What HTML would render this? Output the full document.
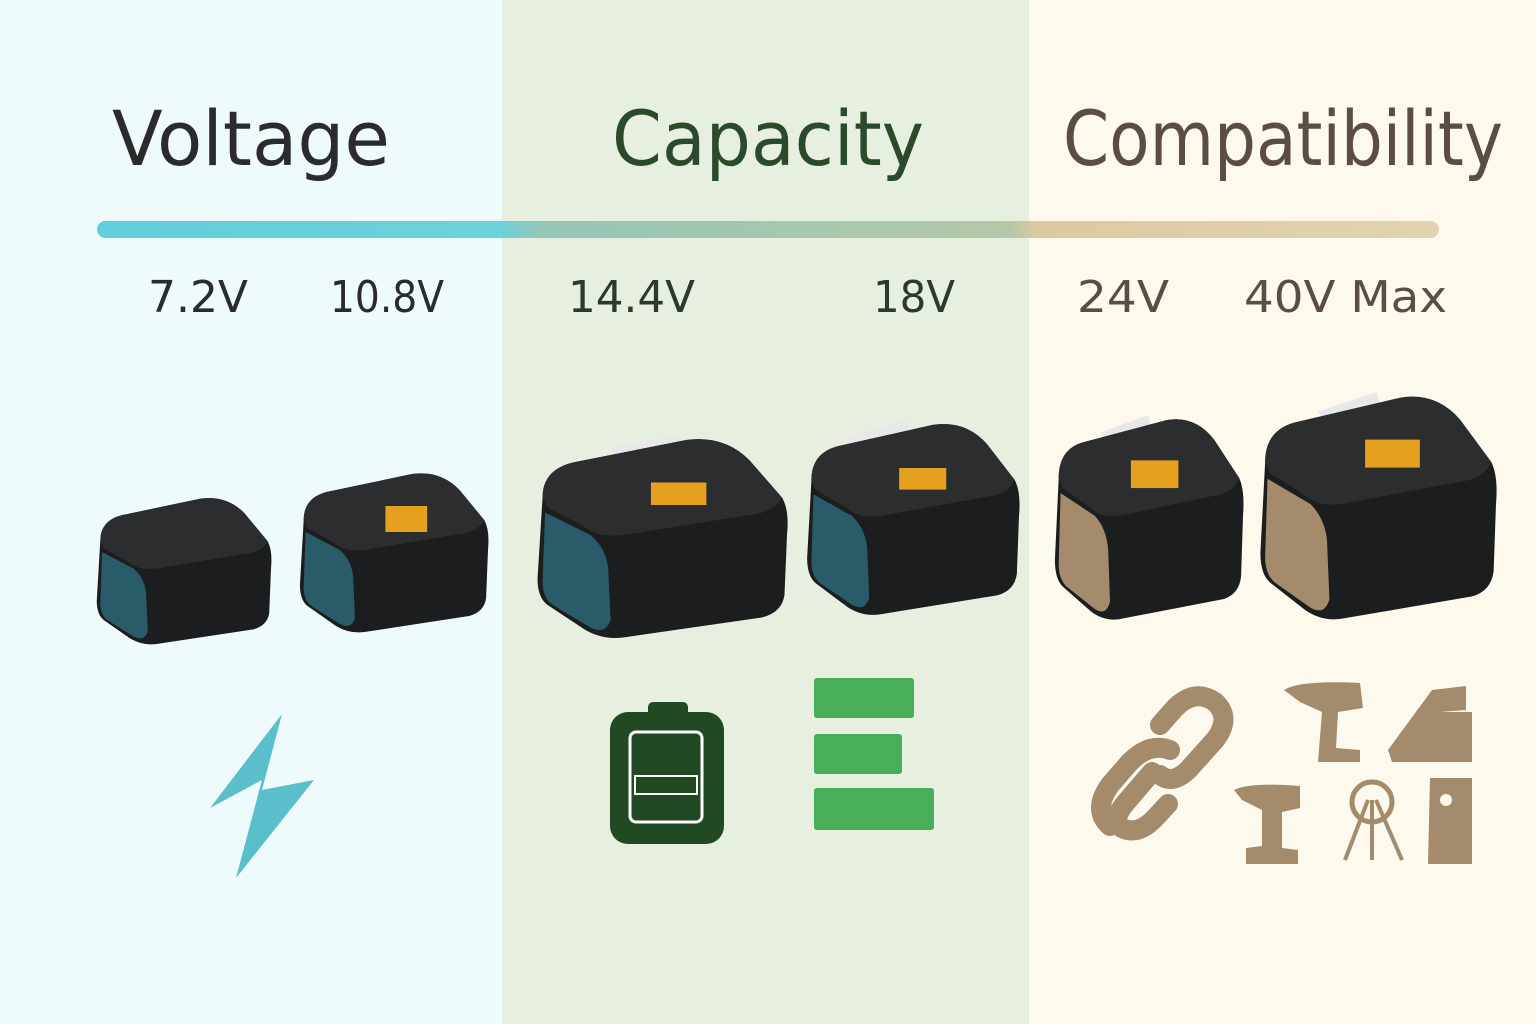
<!DOCTYPE html>
<html><head><meta charset="utf-8"><style>
html,body{margin:0;padding:0;width:1536px;height:1024px;overflow:hidden}
svg{display:block}
text{font-family:"DejaVu Sans","Liberation Sans",sans-serif}
</style></head><body>
<svg width="1536" height="1024" viewBox="0 0 1536 1024" xmlns="http://www.w3.org/2000/svg">
<defs>
<linearGradient id="bar" x1="0" x2="1">
<stop offset="0" stop-color="#5fd0dc"/><stop offset="0.3" stop-color="#6ad2da"/>
<stop offset="0.33" stop-color="#95c6b8"/><stop offset="0.68" stop-color="#b4c9a6"/>
<stop offset="0.7" stop-color="#dcc9a2"/><stop offset="1" stop-color="#e2d3b0"/>
</linearGradient>
<g id="batt">
<path d="M6 50 Q6 28 30 22 L120 4 Q150 0 170 20 L196 50 Q202 60 200 80 L198 128 Q196 142 180 146 L70 162 Q54 164 40 156 L10 136 Q2 130 2 115 Z" fill="#1c1d1e"/>
<path d="M6 50 Q6 28 30 22 L120 4 Q150 0 170 20 L196 50 Q190 62 170 64 L70 80 Q50 82 40 74 L10 58 Z" fill="#2c2d2f"/>
<path d="M8 62 L44 80 Q56 90 58 106 L60 148 Q56 160 44 154 L14 136 Q6 130 6 118 Z" fill="currentColor"/>
</g>
</defs>
<rect x="0" y="0" width="502" height="1024" fill="#eefafb"/>
<rect x="502" y="0" width="527" height="1024" fill="#e6efe0"/>
<rect x="1029" y="0" width="507" height="1024" fill="#fdf9ed"/>

<text x="112" y="165" font-size="76" fill="#2b2b2b" textLength="278" lengthAdjust="spacingAndGlyphs">Voltage</text>
<text x="612" y="165" font-size="76" fill="#2b4a2b" textLength="312" lengthAdjust="spacingAndGlyphs">Capacity</text>
<text x="1063" y="165" font-size="76" fill="#5c4d42" textLength="440" lengthAdjust="spacingAndGlyphs">Compatibility</text>

<rect x="97" y="221" width="1342" height="17" rx="8.5" fill="url(#bar)"/>

<text x="148" y="312" font-size="44" fill="#2b2b2b" textLength="100" lengthAdjust="spacingAndGlyphs">7.2V</text>
<text x="330" y="312" font-size="44" fill="#2b2b2b" textLength="114" lengthAdjust="spacingAndGlyphs">10.8V</text>
<text x="568" y="312" font-size="44" fill="#2b3a2b" textLength="127" lengthAdjust="spacingAndGlyphs">14.4V</text>
<text x="873" y="312" font-size="44" fill="#2b3a2b" textLength="82" lengthAdjust="spacingAndGlyphs">18V</text>
<text x="1077" y="312" font-size="44" fill="#5c4d42" textLength="92" lengthAdjust="spacingAndGlyphs">24V</text>
<text x="1244" y="312" font-size="44" fill="#5c4d42" textLength="203" lengthAdjust="spacingAndGlyphs">40V Max</text>

<g transform="translate(95,495) scale(0.88,0.92)" color="#2a5b68"><use href="#batt"/></g>
<g transform="translate(298,470) scale(0.95,1.0)" color="#2a5b68"><use href="#batt"/><rect x="92" y="36" width="44" height="26" fill="#e6a020"/></g>
<g transform="translate(535,435) scale(1.26,1.25)" color="#2a5b68"><path d="M60 10 L115 0 L120 18 L70 28 Z" fill="#e8e8ea"/><use href="#batt"/><rect x="92" y="38" width="44" height="18" fill="#e6a020"/></g>
<g transform="translate(805,420) scale(1.07,1.2)" color="#2a5b68"><path d="M40 14 L95 0 L100 18 L50 30 Z" fill="#e8e8ea"/><use href="#batt"/><rect x="88" y="40" width="44" height="18" fill="#e6a020"/></g>
<g transform="translate(1053,415) scale(0.95,1.26)" color="#a38b6c"><path d="M50 14 L100 0 L105 18 L60 28 Z" fill="#e8e8ea"/><use href="#batt"/><rect x="82" y="36" width="50" height="22" fill="#e6a020"/></g>
<g transform="translate(1258,392) scale(1.19,1.4)" color="#a38b6c"><path d="M50 14 L100 0 L105 18 L60 28 Z" fill="#e8e8ea"/><use href="#batt"/><rect x="90" y="34" width="46" height="20" fill="#e6a020"/></g>

<path d="M282 714 L210 808 L262 780 L236 878 L314 780 L262 790 Z" fill="#5bbfcb"/>

<rect x="648" y="702" width="40" height="18" rx="5" fill="#214a23"/>
<rect x="610" y="712" width="114" height="132" rx="18" fill="#214a23"/>
<rect x="630" y="732" width="72" height="90" rx="6" fill="none" stroke="#ffffff" stroke-width="3"/>
<rect x="635" y="776" width="62" height="18" fill="#214a23" stroke="#fff" stroke-width="2"/>
<rect x="635" y="798" width="62" height="18" fill="#214a23"/>
<rect x="814" y="678" width="100" height="40" rx="3" fill="#49ae59"/>
<rect x="814" y="734" width="88" height="40" rx="3" fill="#49ae59"/>
<rect x="814" y="788" width="120" height="42" rx="3" fill="#49ae59"/>

<g fill="none" stroke="#a38b6c" stroke-width="20" stroke-linecap="round">
<path d="M1160 725 L1175 708 Q1195 688 1215 702 Q1232 718 1215 740 L1188 770 Q1172 785 1160 775"/>
<path d="M1152 772 L1128 800 Q1110 820 1122 828 Q1138 836 1155 818 L1168 804"/>
<path d="M1170 750 Q1150 742 1130 762 L1110 785 Q1092 810 1110 826"/>
</g>
<g fill="#a38b6c">
<path d="M1284 690 Q1300 680 1360 683 L1363 708 L1338 712 L1336 748 L1360 750 L1360 762 L1318 762 L1322 712 L1300 702 Z"/>
<path d="M1388 750 L1432 690 L1466 686 L1466 710 L1440 712 L1472 712 L1472 762 L1392 762 Z"/>
<path d="M1234 790 Q1250 782 1300 786 L1300 808 L1282 812 L1282 848 L1298 850 L1298 864 L1246 864 L1246 848 L1262 846 L1262 810 L1242 800 Z"/>
<circle cx="1372" cy="802" r="20" fill="none" stroke="#a38b6c" stroke-width="5"/>
<path d="M1368 800 L1345 860 M1372 800 L1372 860 M1376 800 L1402 860" stroke="#a38b6c" stroke-width="4"/>
<path d="M1430 778 L1472 778 L1472 864 L1428 864 Z"/>
</g>
<circle cx="1446" cy="800" r="6" fill="#fdf9ed"/>
</svg>
</body></html>
